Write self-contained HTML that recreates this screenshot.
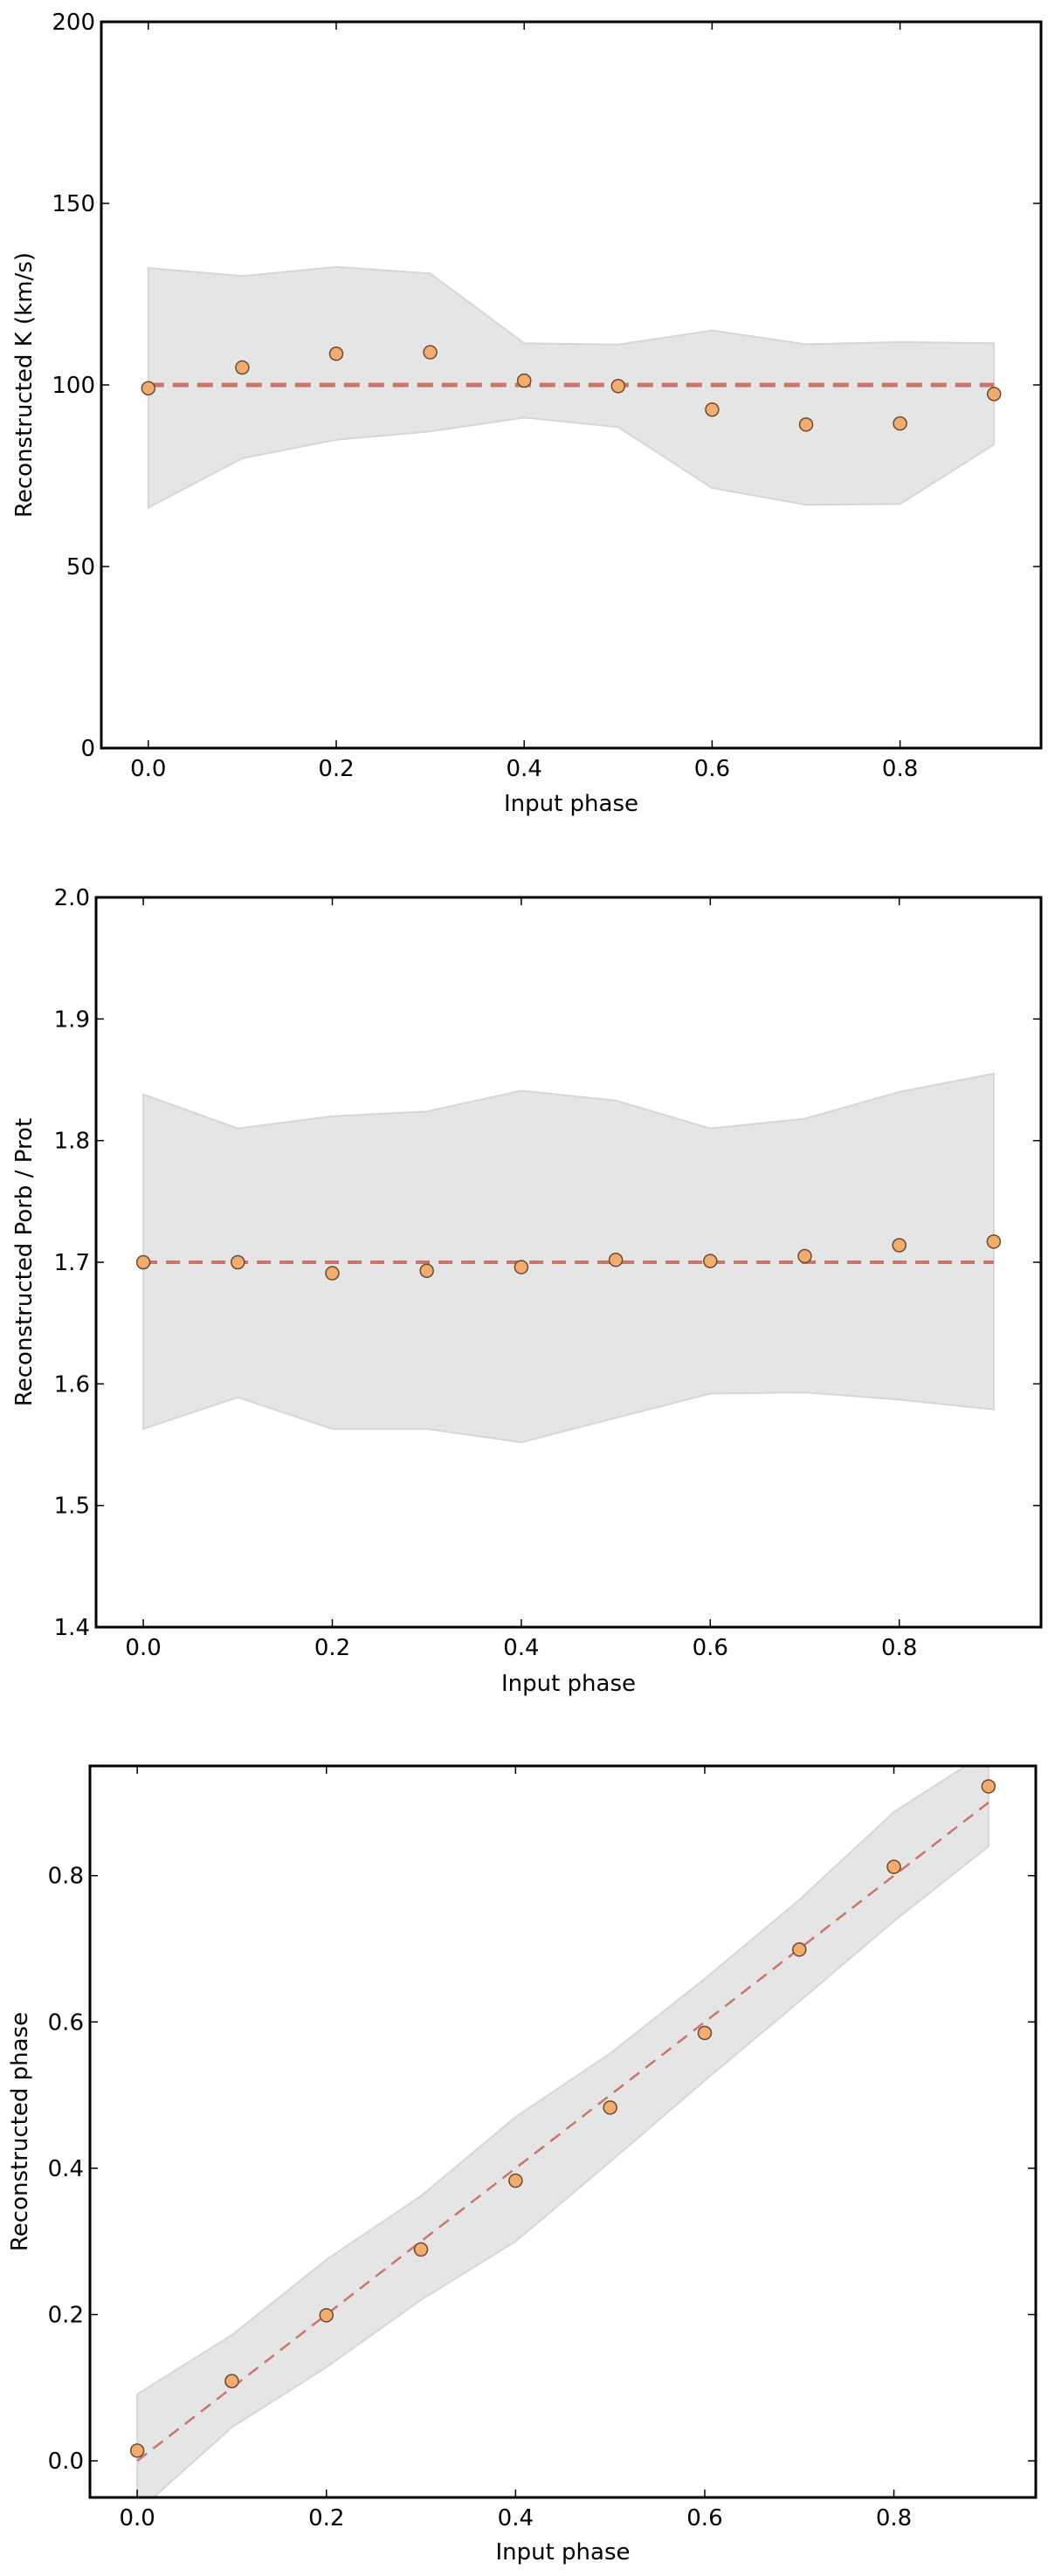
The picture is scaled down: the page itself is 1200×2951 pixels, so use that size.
<!DOCTYPE html>
<html><head><meta charset="utf-8">
<style>
html,body{margin:0;padding:0;background:#fff;}
svg{display:block;font-family:"DejaVu Sans","Liberation Sans",sans-serif;}
</style></head>
<body>
<svg id="fig" width="1200" height="2951" viewBox="0 0 1200 2951" xmlns="http://www.w3.org/2000/svg"></svg>
<script>
// Shared x categories
const inputPhase = [0.0,0.1,0.2,0.3,0.4,0.5,0.6,0.7,0.8,0.9];
const xTicks = [0.0,0.2,0.4,0.6,0.8];
const xTickLabels = ["0.0","0.2","0.4","0.6","0.8"];

// Panel 1: K
const kValues = [99.1,104.8,108.6,109.0,101.2,99.7,93.2,89.1,89.4,97.5];
const kUpper = [132.2,130.0,132.5,130.7,111.5,111.1,115.0,111.2,111.8,111.5];
const kLower = [66.2,79.8,84.9,87.2,91.0,88.4,71.6,67.0,67.2,83.6];
const kTrue = [100,100,100,100,100,100,100,100,100,100];
const kTicks = [0,50,100,150,200];
const kTickLabels = ["0","50","100","150","200"];

// Panel 2: Porb/Prot
const pValues = [1.700,1.700,1.691,1.693,1.696,1.702,1.701,1.705,1.714,1.717];
const pUpper = [1.838,1.810,1.820,1.824,1.841,1.833,1.810,1.818,1.840,1.855];
const pLower = [1.563,1.589,1.563,1.563,1.552,1.572,1.592,1.593,1.587,1.579];
const pTrue = [1.7,1.7,1.7,1.7,1.7,1.7,1.7,1.7,1.7,1.7];
const pTicks = [1.4,1.5,1.6,1.7,1.8,1.9,2.0];
const pTickLabels = ["1.4","1.5","1.6","1.7","1.8","1.9","2.0"];

// Panel 3: phase
const phValues = [0.014,0.109,0.199,0.289,0.383,0.483,0.585,0.699,0.812,0.922];
const phUpper = [0.091,0.172,0.275,0.362,0.470,0.557,0.659,0.767,0.887,0.970];
const phLower = [-0.070,0.046,0.128,0.220,0.300,0.409,0.520,0.628,0.738,0.840];
const phTrue = [0.0,0.1,0.2,0.3,0.4,0.5,0.6,0.7,0.8,0.9];
const phTicks = [0.0,0.2,0.4,0.6,0.8];
const phTickLabels = ["0.0","0.2","0.4","0.6","0.8"];

const NS = "http://www.w3.org/2000/svg";
const svg = document.getElementById("fig");
function mk(tag, attrs, parent){
  const e = document.createElementNS(NS, tag);
  for (const k in attrs) e.setAttribute(k, attrs[k]);
  (parent||svg).appendChild(e);
  return e;
}

function panel(id, box, ylim, yTicks, yTickLabels, ylabel, ylabelX, xlabelY, vals, up, lo, tru, dashW, dashArr){
  const [L,T,R,B] = box;
  const xlim = [-0.05,0.95];
  const sx = v => L + (v - xlim[0])/(xlim[1]-xlim[0])*(R-L);
  const sy = v => B - (v - ylim[0])/(ylim[1]-ylim[0])*(B-T);
  const g = mk("g", {});
  
  
  const cp = mk("clipPath", {id: id+"-clip"}, g);
  mk("rect", {x:L, y:T, width:R-L, height:B-T}, cp);
  const plot = mk("g", {"clip-path":"url(#"+id+"-clip)"}, g);

  // band
  let d = "";
  inputPhase.forEach((x,i)=>{ d += (i?"L":"M") + sx(x).toFixed(1) + "," + sy(up[i]).toFixed(1); });
  for (let i=inputPhase.length-1;i>=0;i--) d += "L" + sx(inputPhase[i]).toFixed(1) + "," + sy(lo[i]).toFixed(1);
  d += "Z";
  const band = mk("path", {d:d, fill:"#e5e5e5", stroke:"#d6d6d6", "stroke-width":2}, plot);
  
  

  // true line
  let dl = "";
  inputPhase.forEach((x,i)=>{ dl += (i?"L":"M") + sx(x).toFixed(1) + "," + sy(tru[i]).toFixed(1); });
  const line = mk("path", {d:dl, fill:"none", stroke:"#c8766a", "stroke-width":dashW, "stroke-dasharray":dashArr}, plot);
  
  

  // points
  inputPhase.forEach((x,i)=>{
    const c = mk("circle", {cx:sx(x), cy:sy(vals[i]), r:7.5, fill:"#f2ac6e", stroke:"#6b4a2e", "stroke-width":1.5}, plot);
    
    
  });

  // frame
  const fr = mk("rect", {x:L, y:T, width:R-L, height:B-T, fill:"none", stroke:"#000", "stroke-width":3}, g);
  
  

  // x ticks
  xTicks.forEach((v,i)=>{
    const x = sx(v);
    mk("line", {x1:x, y1:B, x2:x, y2:B-9, stroke:"#000", "stroke-width":1.5}, g);
    mk("line", {x1:x, y1:T, x2:x, y2:T+9, stroke:"#000", "stroke-width":1.5}, g);
    const t = mk("text", {x:x, y:B+32, "font-size":26, "text-anchor":"middle", fill:"#000"}, g);
    t.textContent = xTickLabels[i];
    
    
  });
  // y ticks
  yTicks.forEach((v,i)=>{
    const y = sy(v);
    if (y < T-1 || y > B+1) return;
    mk("line", {x1:L, y1:y, x2:L+9, y2:y, stroke:"#000", "stroke-width":1.5}, g);
    mk("line", {x1:R, y1:y, x2:R-9, y2:y, stroke:"#000", "stroke-width":1.5}, g);
    const t = mk("text", {x:L-7, y:y+9, "font-size":26, "text-anchor":"end", fill:"#000"}, g);
    t.textContent = yTickLabels[i];
    
    
  });
  const xl = mk("text", {x:(L+R)/2, y:xlabelY, "font-size":26, "text-anchor":"middle", fill:"#000"}, g);
  xl.textContent = "Input phase";
  
  
  const cy = (T+B)/2;
  const yl = mk("text", {x:ylabelX, y:cy, "font-size":26, "text-anchor":"middle", fill:"#000", transform:"rotate(-90 "+ylabelX+" "+cy+")"}, g);
  yl.textContent = ylabel;
  
  
}

panel("k", [116,25,1192,857], [0,200], kTicks, kTickLabels, "Reconstructed K (km/s)", 36, 929, kValues, kUpper, kLower, kTrue, 5, "18 10");
panel("porb", [110,1028,1192,1864], [1.4,2.0], pTicks, pTickLabels, "Reconstructed Porb / Prot", 36, 1937, pValues, pUpper, pLower, pTrue, 4, "16 10");
panel("phase", [103,2023,1186,2861], [-0.05,0.95], phTicks, phTickLabels, "Reconstructed phase", 31, 2932, phValues, phUpper, phLower, phTrue, 2.5, "14 9");
</script>
</body></html>
